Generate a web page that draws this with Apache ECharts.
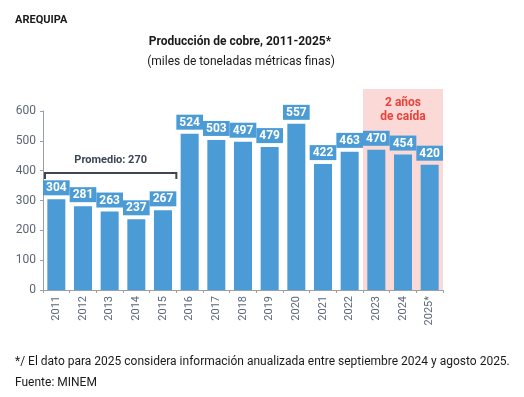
<!DOCTYPE html>
<html>
<head>
<meta charset="utf-8">
<script src="https://cdn.jsdelivr.net/npm/echarts@6/dist/echarts.min.js"></script>
<style>
  html, body { margin: 0; padding: 0; background: #fff; }
  #main { width: 524px; height: 397px; }
</style>
</head>
<body>
<div id="main"></div>
<script>
var years = ['2011', '2012', '2013', '2014', '2015', '2016', '2017', '2018', '2019', '2020', '2021', '2022', '2023', '2024', '2025*']
var produccion = [304, 281, 263, 237, 267, 524, 503, 497, 479, 557, 422, 463, 470, 454, 420]
var yTicks = [0, 100, 200, 300, 400, 500, 600]
// tramo del promedio (2011-2015) y tramo de caída (2023-2025*)
var promedioRange = [0, 4]
var promedioLabel = 'Promedio: 270'
var caidaRange = [12, 14]
var caidaLabel = '2 años\nde caída'

var font = 'Roboto'
var azul = '#4b9bd6'
var gris = '#5b6676'

var chartDom = document.getElementById('main')
var myChart = echarts.init(chartDom)

var option = {
  animation: false,
  textStyle: { fontFamily: font },
  title: [
    {
      text: 'AREQUIPA',
      left: 10, top: 10,
      textStyle: { fontSize: 11, fontWeight: 'bold', color: '#1a1a1a', fontFamily: font }
    },
    {
      text: 'Producción de cobre, 2011-2025*',
      left: 235, top: 31, textAlign: 'center',
      textStyle: { fontSize: 12, fontWeight: 'bold', color: '#1a1a1a', fontFamily: font }
    },
    {
      text: '(miles de toneladas métricas finas)',
      left: 236, top: 51, textAlign: 'center',
      textStyle: { fontSize: 12, fontWeight: 'normal', color: '#1a1a1a', fontFamily: font }
    },
    {
      text: '*/ El dato para 2025 considera información anualizada entre septiembre 2024 y agosto 2025.\nFuente: MINEM',
      left: 10, top: 346,
      textStyle: { fontSize: 12, fontWeight: 'normal', color: '#1a1a1a', lineHeight: 21, fontFamily: font }
    }
  ],
  grid: { left: 43, right: 81, top: 111, bottom: 107 },
  xAxis: {
    type: 'category',
    data: years,
    axisLine: { lineStyle: { color: '#9aa0a8' } },
    axisTick: { show: true, length: 3, lineStyle: { color: '#9aa0a8' } },
    axisLabel: { rotate: 90, color: gris, fontSize: 11, margin: 6 }
  },
  yAxis: {
    type: 'value',
    min: yTicks[0],
    max: yTicks[yTicks.length - 1],
    interval: 100,
    splitLine: { show: false },
    axisLine: { show: true, lineStyle: { color: '#9aa0a8' } },
    axisTick: { show: true, length: 3, lineStyle: { color: '#9aa0a8' } },
    axisLabel: { color: gris, fontSize: 12, margin: 7 }
  },
  series: [
    {
      // fondo rosado para los años de caída
      type: 'custom',
      z: 0,
      silent: true,
      data: [[caidaRange[0], caidaRange[1]]],
      renderItem: function (params, api) {
        var a = api.coord([api.value(0), 0])
        var b = api.coord([api.value(1), 0])
        var bw = api.size([1, 0])[0]
        var top = 89
        var cx = (a[0] + b[0]) / 2
        return {
          type: 'group',
          children: [
            {
              type: 'rect',
              shape: { x: a[0] - bw / 2, y: top, width: b[0] - a[0] + bw, height: a[1] - top },
              style: { fill: '#fbd9d6' }
            },
            {
              type: 'text',
              style: {
                text: caidaLabel, x: cx, y: top + 7, align: 'center', verticalAlign: 'top',
                fill: '#e8423a', font: 'bold 12px ' + font, lineHeight: 14
              }
            }
          ]
        }
      }
    },
    {
      name: 'Producción',
      type: 'bar',
      z: 2,
      barWidth: 18,
      data: produccion,
      itemStyle: { color: azul },
      label: {
        show: true,
        position: 'top',
        distance: 4,
        color: '#fff',
        fontWeight: 'bold',
        fontSize: 12,
        backgroundColor: azul,
        padding: [2, 3, 1, 3]
      }
    },
    {
      // llave del promedio 2011-2015
      type: 'custom',
      z: 3,
      silent: true,
      data: [[promedioRange[0], promedioRange[1]]],
      renderItem: function (params, api) {
        var a = api.coord([api.value(0), 0])
        var b = api.coord([api.value(1), 0])
        var bw = api.size([1, 0])[0]
        var x1 = a[0] - bw / 2 + 2
        var x2 = b[0] + bw / 2
        var y = 173
        return {
          type: 'group',
          children: [
            {
              type: 'polyline',
              shape: { points: [[x1, y + 6], [x1, y], [x2, y], [x2, y + 6]] },
              style: { stroke: '#3c4656', lineWidth: 2, fill: null }
            },
            {
              type: 'text',
              style: {
                text: promedioLabel, x: (x1 + x2) / 2, y: y - 7, align: 'center', verticalAlign: 'bottom',
                fill: '#3c4656', font: 'bold 11px ' + font
              }
            }
          ]
        }
      }
    }
  ]
}

option && myChart.setOption(option)
</script>
</body>
</html>
